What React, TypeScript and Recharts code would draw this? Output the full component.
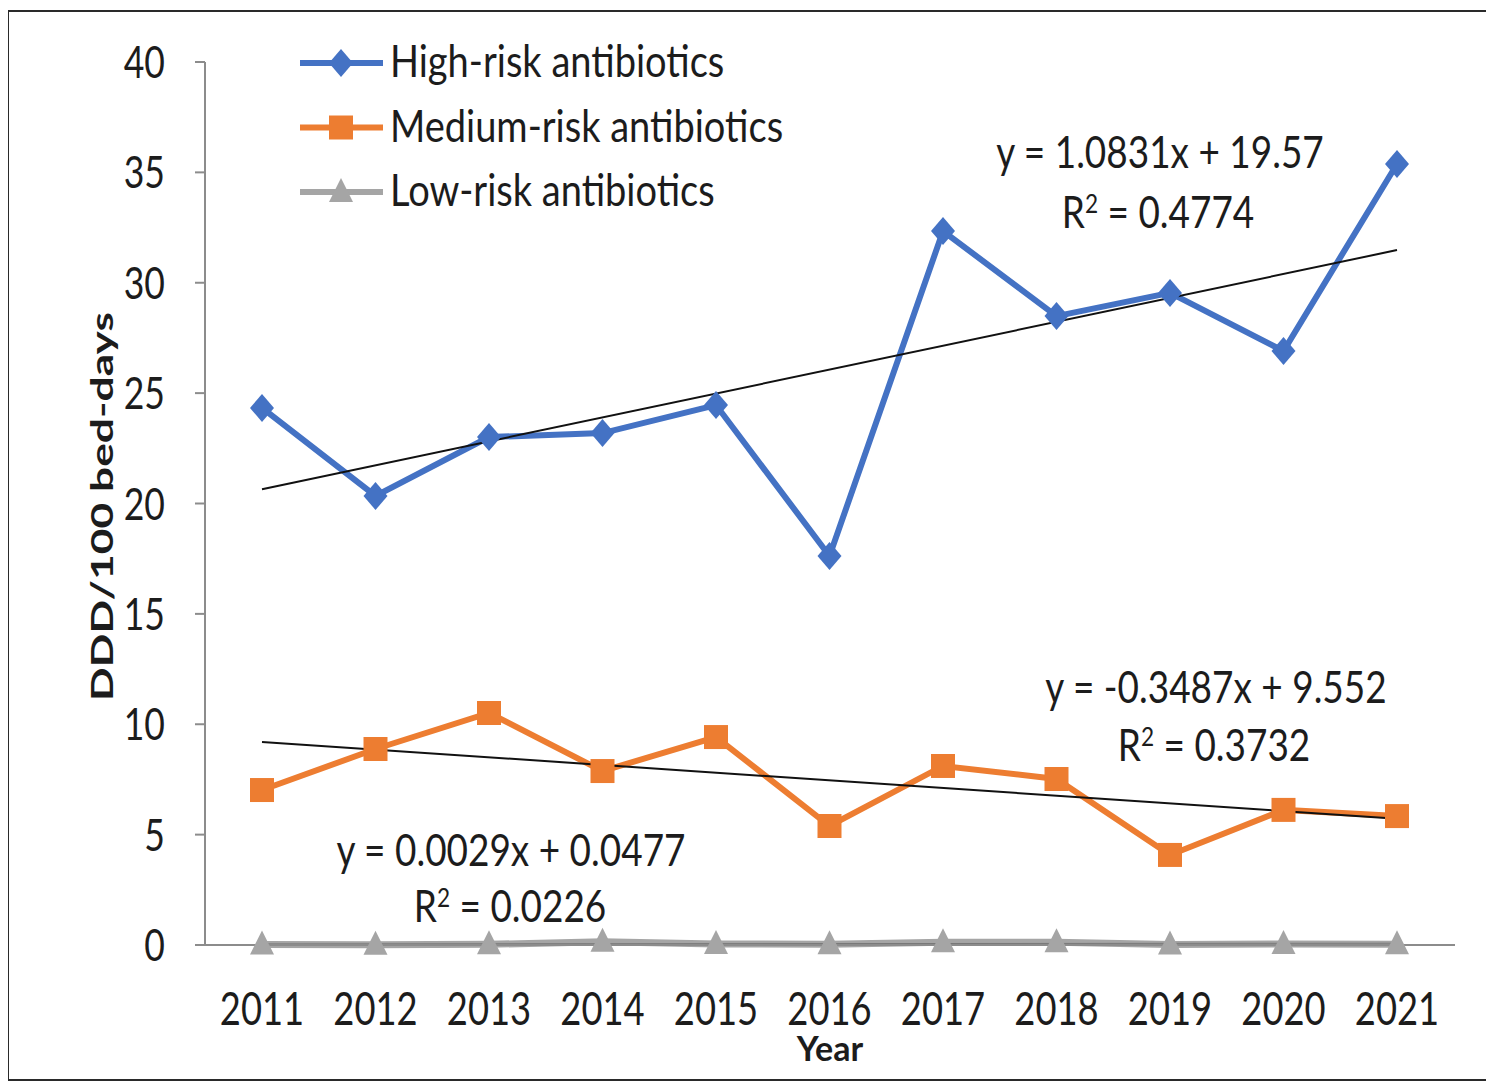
import React from 'react';
import { LineChart, Line, XAxis, YAxis, ReferenceLine, Legend, Customized } from 'recharts';

const years = ['2011', '2012', '2013', '2014', '2015', '2016', '2017', '2018', '2019', '2020', '2021'];
const highRisk = [24.33, 20.34, 23.01, 23.19, 24.46, 17.62, 32.34, 28.49, 29.54, 26.91, 35.38];
const mediumRisk = [7.02, 8.88, 10.51, 7.88, 9.42, 5.39, 8.11, 7.52, 4.08, 6.12, 5.84];
const lowRisk = [0.02, 0.01, 0.03, 0.15, 0.05, 0.03, 0.12, 0.12, 0.02, 0.05, 0.03];
const yTicks = [0, 5, 10, 15, 20, 25, 30, 35, 40];

// trendline end values (first and last year)
const highTrend = [20.65, 31.48];
const mediumTrend = [9.2, 5.72];
const lowTrend = [0.05, 0.08];

const highEquation = ['y = 1.0831x + 19.57', ' = 0.4774'];
const mediumEquation = ['y = -0.3487x + 9.552', ' = 0.3732'];
const lowEquation = ['y = 0.0029x + 0.0477', ' = 0.0226'];

const seriesNames = ['High-risk antibiotics', 'Medium-risk antibiotics', 'Low-risk antibiotics'];
const BLUE = '#4472C4';
const ORANGE = '#ED7D31';
const GRAY = '#A5A5A5';
const AXIS = '#8c8c8c';
const TEXT = '#1c1c1c';
const FONT = 'Lato, "Open Sans", sans-serif';

const data = years.map((year, i) => ({
  year,
  high: highRisk[i],
  medium: mediumRisk[i],
  low: lowRisk[i],
}));

type STextProps = {
  x: number;
  y: number;
  sx?: number;
  anchor?: 'start' | 'middle' | 'end';
  size: number;
  weight?: number | string;
  rotate?: number;
  children: React.ReactNode;
};

function SText({ x, y, sx = 1, anchor = 'middle', size, weight = 400, rotate, children }: STextProps) {
  const t = `translate(${x},${y})${rotate ? ` rotate(${rotate})` : ''} scale(${sx},1)`;
  return (
    <text transform={t} x={0} y={0} textAnchor={anchor} fontFamily={FONT} fontSize={size} fontWeight={weight} fill={TEXT}>
      {children}
    </text>
  );
}

const diamondPath = (cx: number, cy: number) => `M${cx},${cy - 14} L${cx + 12},${cy} L${cx},${cy + 14} L${cx - 12},${cy} Z`;
const squarePath = (cx: number, cy: number) => `M${cx - 12},${cy - 12} h24 v24 h-24 Z`;
const trianglePath = (cx: number, cy: number) => `M${cx},${cy - 14} L${cx + 12},${cy + 10} L${cx - 12},${cy + 10} Z`;

const makeDot = (pathFn: (cx: number, cy: number) => string, color: string, prefix: string) => (props: any) => {
  const { cx, cy, index } = props;
  if (cx == null || cy == null) return <g key={`${prefix}-${index}`} />;
  return <path key={`${prefix}-${index}`} d={pathFn(cx, cy)} fill={color} stroke="none" />;
};

const YTick = (props: any) => (
  <SText x={props.x} y={props.y + 16} anchor="end" sx={0.79} size={45}>
    {props.payload.value}
  </SText>
);

const XTick = (props: any) => (
  <SText x={props.x} y={props.y + 80} sx={0.79} size={46}>
    {props.payload.value}
  </SText>
);

const legendShapes = [
  { color: BLUE, path: diamondPath },
  { color: ORANGE, path: squarePath },
  { color: GRAY, path: trianglePath },
];

const renderLegend = () => (
  <svg width={520} height={220}>
    {seriesNames.map((name, i) => {
      const cy = 51 + i * 64.5;
      const s = legendShapes[i];
      return (
        <g key={name}>
          <line x1={0} y1={cy} x2={83} y2={cy} stroke={s.color} strokeWidth={6} />
          <path d={s.path(41, cy)} fill={s.color} />
          <SText x={90} y={cy + 14} anchor="start" sx={0.845} size={45}>
            {name}
          </SText>
        </g>
      );
    })}
  </svg>
);

const RSquared = ({ x, y, value }: { x: number; y: number; value: string }) => (
  <SText x={x} y={y} sx={0.84} size={44}>
    R
    <tspan fontSize={27} dy={-15}>2</tspan>
    <tspan fontSize={44} dy={15}>{value}</tspan>
  </SText>
);

const Equations = () => (
  <g>
    <SText x={1151} y={156} sx={0.84} size={44}>{highEquation[0]}</SText>
    <RSquared x={1149} y={216} value={highEquation[1]} />
    <SText x={1207} y={691} sx={0.84} size={44}>{mediumEquation[0]}</SText>
    <RSquared x={1205} y={749} value={mediumEquation[1]} />
    <SText x={502} y={854} sx={0.84} size={44}>{lowEquation[0]}</SText>
    <RSquared x={501} y={910} value={lowEquation[1]} />
  </g>
);

export default function App() {
  return (
    <div
      style={{
        width: 1483,
        height: 1071,
        marginLeft: -1,
        marginTop: 2,
        border: '2px solid #2a2a2a',
        boxSizing: 'border-box',
        background: '#fff',
        position: 'relative',
      }}
    >
      <LineChart width={1479} height={1067} data={data} margin={{ top: 50, right: 33, bottom: 0, left: 0 }}>
        <XAxis
          dataKey="year"
          height={134}
          padding={{ left: 57, right: 58 }}
          axisLine={{ stroke: AXIS, strokeWidth: 2 }}
          tickLine={false}
          tickSize={0}
          tickMargin={0}
          tick={<XTick />}
          interval={0}
          label={{
            content: (p: any) => {
              const vb = p.viewBox;
              return (
                <SText x={vb.x + vb.width / 2} y={vb.y + 116} size={34} weight={700} sx={1.0}>
                  Year
                </SText>
              );
            },
          }}
        />
        <YAxis
          width={196}
          domain={[0, 40]}
          ticks={yTicks}
          interval={0}
          axisLine={{ stroke: AXIS, strokeWidth: 2 }}
          tickLine={{ stroke: AXIS, strokeWidth: 2 }}
          tickSize={10}
          tickMargin={30}
          tick={<YTick />}
          label={{
            content: (p: any) => {
              const vb = p.viewBox;
              return (
                <SText x={104} y={vb.y + vb.height / 2 + 3} size={31} weight={700} sx={1.43} rotate={-90}>
                  DDD/100 bed-days
                </SText>
              );
            },
          }}
        />
        <Legend
          layout="vertical"
          align="center"
          verticalAlign="middle"
          wrapperStyle={{ left: 291, top: 0, width: 520, height: 220 }}
          content={renderLegend}
        />
        <Line
          dataKey="low"
          name={seriesNames[2]}
          stroke={GRAY}
          strokeWidth={7}
          dot={makeDot(trianglePath, GRAY, 'low')}
          activeDot={false}
          isAnimationActive={false}
        />
        <Line
          dataKey="medium"
          name={seriesNames[1]}
          stroke={ORANGE}
          strokeWidth={6}
          dot={makeDot(squarePath, ORANGE, 'med')}
          activeDot={false}
          isAnimationActive={false}
        />
        <Line
          dataKey="high"
          name={seriesNames[0]}
          stroke={BLUE}
          strokeWidth={6}
          dot={makeDot(diamondPath, BLUE, 'high')}
          activeDot={false}
          isAnimationActive={false}
        />
        <ReferenceLine
          segment={[
            { x: years[0], y: highTrend[0] },
            { x: years[years.length - 1], y: highTrend[1] },
          ]}
          stroke="#111"
          strokeWidth={2}
        />
        <ReferenceLine
          segment={[
            { x: years[0], y: mediumTrend[0] },
            { x: years[years.length - 1], y: mediumTrend[1] },
          ]}
          stroke="#111"
          strokeWidth={2}
        />
        <ReferenceLine
          segment={[
            { x: years[0], y: lowTrend[0] },
            { x: years[years.length - 1], y: lowTrend[1] },
          ]}
          stroke="#111"
          strokeWidth={1}
          strokeOpacity={0.3}
        />
        <Customized component={<Equations />} />
      </LineChart>
    </div>
  );
}
